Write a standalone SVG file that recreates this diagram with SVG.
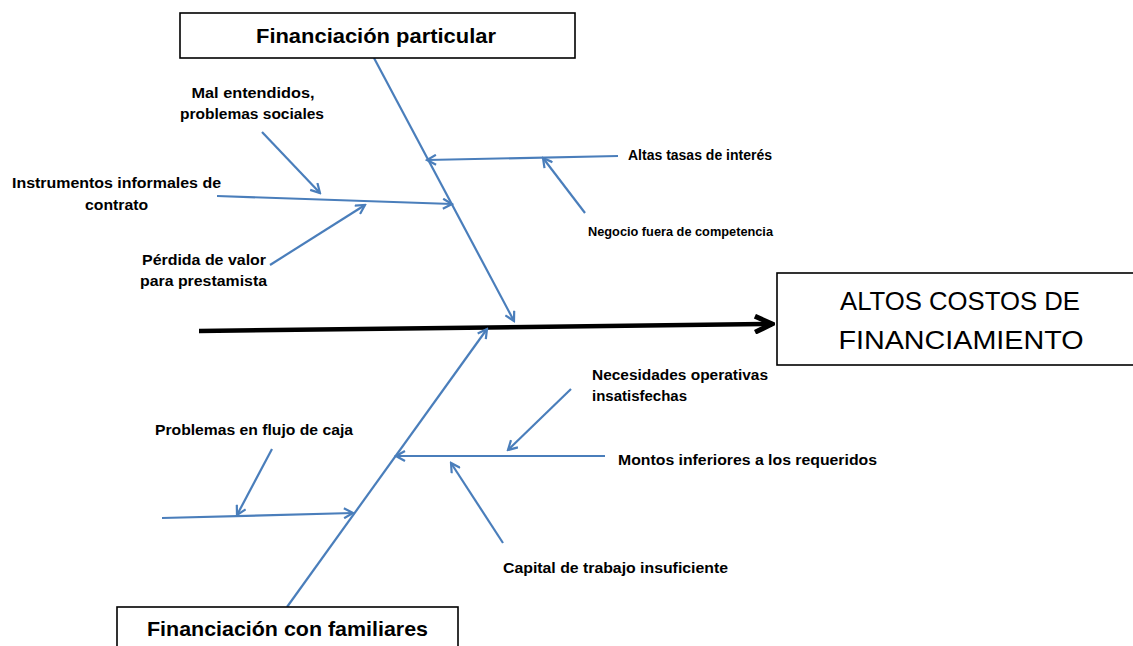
<svg xmlns="http://www.w3.org/2000/svg" width="1133" height="646" viewBox="0 0 1133 646">
  <style>
    .box { fill: #ffffff; stroke: #000000; stroke-width: 1.6; }
    .bone { fill: none; stroke: #4a7ebb; stroke-width: 2.2; marker-end: url(#blueHead); }
    .spine { fill: none; stroke: #000000; stroke-width: 4.5; marker-end: url(#blackHead); }
    .lbl { font-family: "Liberation Sans", Arial, sans-serif; font-weight: bold; font-size: 14px; fill: #000000; }
    .small { font-size: 12px; }
    .cat { font-family: "Liberation Sans", Arial, sans-serif; font-weight: bold; font-size: 21px; fill: #000000; text-anchor: middle; }
    .effect { font-family: "Liberation Sans", Arial, sans-serif; font-size: 26.5px; fill: #000000; text-anchor: middle; }
  </style>
  <defs>
    <marker id="blueHead" viewBox="0 0 12 12" refX="10" refY="6" markerWidth="12" markerHeight="12" markerUnits="userSpaceOnUse" orient="auto">
      <path d="M1,1 L10,6 L1,11" fill="none" stroke="#4a7ebb" stroke-width="2.2"/>
    </marker>
    <marker id="blackHead" viewBox="0 0 22 20" refX="19" refY="10" markerWidth="22" markerHeight="20" markerUnits="userSpaceOnUse" orient="auto">
      <path d="M2,2 L19,10 L2,18" fill="none" stroke="#000000" stroke-width="5" stroke-linejoin="miter"/>
    </marker>
  </defs>
  <rect width="1133" height="646" fill="#ffffff"/>

  <g id="connectors">
    <line class="spine" x1="199" y1="331" x2="772" y2="324"/>
    <line class="bone" x1="374" y1="58" x2="514" y2="321"/>
    <line class="bone" x1="287" y1="607" x2="487" y2="329"/>
    <line class="bone" x1="618" y1="156" x2="427" y2="160"/>
    <line class="bone" x1="585" y1="213" x2="543" y2="158"/>
    <line class="bone" x1="217" y1="196" x2="452" y2="204"/>
    <line class="bone" x1="262" y1="132" x2="320" y2="193"/>
    <line class="bone" x1="270" y1="265" x2="365" y2="205"/>
    <line class="bone" x1="605" y1="456" x2="396" y2="456"/>
    <line class="bone" x1="571" y1="389" x2="508" y2="450"/>
    <line class="bone" x1="503" y1="543" x2="451" y2="463"/>
    <line class="bone" x1="162" y1="518" x2="353" y2="513"/>
    <line class="bone" x1="272" y1="449" x2="237" y2="515"/>
  </g>

  <g id="effect">
    <rect class="box" x="777" y="273" width="370" height="92"/>
    <text class="effect" x="960" y="310" textLength="240" lengthAdjust="spacingAndGlyphs">ALTOS COSTOS DE</text>
    <text class="effect" x="961" y="349" textLength="245" lengthAdjust="spacingAndGlyphs">FINANCIAMIENTO</text>
  </g>

  <g id="cat-particular">
    <rect class="box" x="180" y="13" width="395" height="45"/>
    <text class="cat" x="376" y="43" textLength="240" lengthAdjust="spacingAndGlyphs">Financiación particular</text>
  </g>

  <g id="cat-familiares">
    <rect class="box" x="117" y="607" width="341" height="50"/>
    <text class="cat" x="287.5" y="636" textLength="281" lengthAdjust="spacingAndGlyphs">Financiación con familiares</text>
  </g>

  <g id="cause-mal-entendidos">
    <text class="lbl" x="253" y="98" text-anchor="middle" textLength="123" lengthAdjust="spacingAndGlyphs">Mal entendidos,</text>
    <text class="lbl" x="252" y="119" text-anchor="middle" textLength="144" lengthAdjust="spacingAndGlyphs">problemas sociales</text>
  </g>

  <g id="cause-instrumentos">
    <text class="lbl" x="116.5" y="188" text-anchor="middle" textLength="209" lengthAdjust="spacingAndGlyphs">Instrumentos informales de</text>
    <text class="lbl" x="116.5" y="210" text-anchor="middle" textLength="63" lengthAdjust="spacingAndGlyphs">contrato</text>
  </g>

  <g id="cause-perdida">
    <text class="lbl" x="204" y="265" text-anchor="middle" textLength="124" lengthAdjust="spacingAndGlyphs">Pérdida de valor</text>
    <text class="lbl" x="203.5" y="286" text-anchor="middle" textLength="127" lengthAdjust="spacingAndGlyphs">para prestamista</text>
  </g>

  <g id="cause-altas-tasas">
    <text class="lbl" x="628" y="160" textLength="144" lengthAdjust="spacingAndGlyphs">Altas tasas de interés</text>
  </g>

  <g id="cause-negocio">
    <text class="lbl small" x="588" y="236" textLength="185" lengthAdjust="spacingAndGlyphs">Negocio fuera de competencia</text>
  </g>

  <g id="cause-necesidades">
    <text class="lbl" x="592" y="380" textLength="176" lengthAdjust="spacingAndGlyphs">Necesidades operativas</text>
    <text class="lbl" x="592" y="401" textLength="95" lengthAdjust="spacingAndGlyphs">insatisfechas</text>
  </g>

  <g id="cause-montos">
    <text class="lbl" x="618" y="465" textLength="259" lengthAdjust="spacingAndGlyphs">Montos inferiores a los requeridos</text>
  </g>

  <g id="cause-capital">
    <text class="lbl" x="503" y="573" textLength="225" lengthAdjust="spacingAndGlyphs">Capital de trabajo insuficiente</text>
  </g>

  <g id="cause-flujo">
    <text class="lbl" x="155" y="435" textLength="198" lengthAdjust="spacingAndGlyphs">Problemas en flujo de caja</text>
  </g>
</svg>
